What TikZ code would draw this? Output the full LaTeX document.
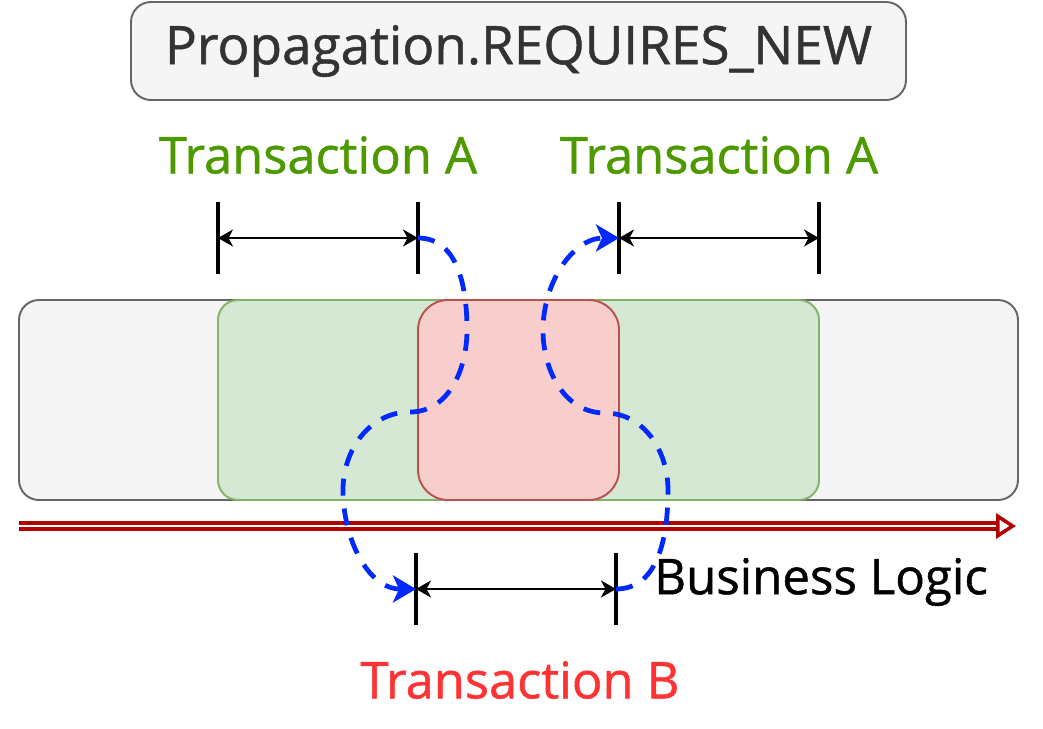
\documentclass[tikz,border=0pt]{standalone}
\usepackage{fontspec}
\setmainfont[FakeBold=1]{Open Sans}
\usepackage{tikz}
\usetikzlibrary{arrows.meta,positioning,calc}
\definecolor{PanelGray}{HTML}{F5F5F5}
\definecolor{EdgeGray}{HTML}{666666}
\definecolor{TextGray}{HTML}{333333}
\definecolor{SoftGreen}{HTML}{D5E8D4}
\definecolor{DeepGreen}{HTML}{82B366}
\definecolor{LabelGreen}{HTML}{4D9900}
\definecolor{SoftRed}{HTML}{F8CECC}
\definecolor{DeepRed}{HTML}{B85450}
\definecolor{LabelRed}{HTML}{FF3333}
\definecolor{AxisRed}{HTML}{B20000}
\definecolor{HopBlue}{HTML}{0029FF}
\tikzset{
  panel/.style={draw=EdgeGray,fill=PanelGray,rounded corners=4mm,line width=1.1pt,inner sep=0pt},
  txgreen/.style={draw=DeepGreen,fill=SoftGreen,rounded corners=4mm,line width=1.1pt,inner sep=0pt},
  txred/.style={draw=DeepRed,fill=SoftRed,rounded corners=6mm,line width=1.1pt,inner sep=0pt},
  label/.style={font=\fontsize{28.8}{34}\selectfont,inner sep=0pt},
  tickline/.style={line width=2.4pt,draw=black},
  span/.style={{Stealth[length=3mm,width=3.4mm,inset=0.9mm]}-{Stealth[length=3mm,width=3.4mm,inset=0.9mm]},line width=0.85pt},
  hop/.style={draw=HopBlue,line width=2.7pt,dash pattern=on 3.4mm off 2.6mm,
              -{Stealth[length=4.6mm,width=5.4mm,inset=1.2mm]}},
  timeline/.style={draw=AxisRed,double=white,line width=2pt,double distance=1.2pt,
              -{Triangle[open,length=4mm,width=5mm,line width=2pt]}}
}

\begin{document}
\begin{tikzpicture}[x=0.2mm,y=-0.2mm]
  \useasboundingbox (0,0) rectangle (1043,728);
  \node[panel,minimum width=155mm,minimum height=19.6mm,font=\fontsize{30.2}{36}\selectfont,text=TextGray] (title) at (518.5,51) {Propagation.REQUIRES\_NEW};

  \node[panel,minimum width=199.8mm,minimum height=40mm] (lane) at (518.5,400) {};
  \node[txgreen,minimum width=120.2mm,minimum height=40mm] (outer) at (518.5,400) {};
  \node[txred,minimum width=40.2mm,minimum height=40mm] (inner) at (518.5,400) {};

  \node[label,text=LabelGreen] (txA1) at (318,155) {Transaction A};
  \node[label,text=LabelGreen] (txA2) at (719,155) {Transaction A};
  \node[label,text=LabelRed] (txB) at (520,680) {Transaction B};
  \node[label,text=black,font=\fontsize{28}{34}\selectfont] (logic) at (821,582) {Business Logic};

  % dimension marks
  \coordinate (a1) at (218,238);
  \coordinate (a2) at (418,238);
  \coordinate (c1) at (619,238);
  \coordinate (c2) at (819,238);
  \coordinate (b1) at (416,589);
  \coordinate (b2) at (616,589);
  \foreach \p in {a1,a2,c1,c2,b1,b2}
    \draw[tickline] ($(\p)+(0,-36)$) -- ($(\p)+(0,36)$);
  \draw[span] (a1) -- (a2);
  \draw[span] (c1) -- (c2);
  \draw[span] (b1) -- (b2);

  % time axis
  \coordinate (t0) at (19,526);
  \coordinate (t1) at (1016,526);
  \draw[timeline] (t0) -- (t1);

  % suspend and resume
  \draw[hop] (a2) to[out=0,in=90] (467,330) to[out=-90,in=0] (410,412)
    to[out=180,in=90] (343,490) to[out=-90,in=180] (b1);
  \draw[hop] (b2) to[out=0,in=-90] (668,490) to[out=90,in=0] (605,413)
    to[out=180,in=-90] (543,330) to[out=90,in=180] (c1);
\end{tikzpicture}
\end{document}
